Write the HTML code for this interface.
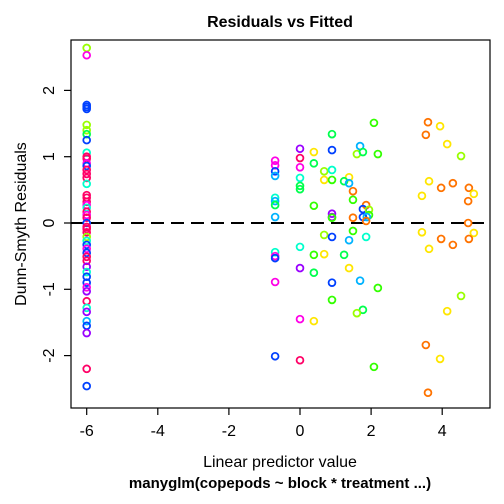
<!DOCTYPE html>
<html><head><meta charset="utf-8"><style>
body{margin:0;background:#fff}
svg{display:block;font-family:"Liberation Sans",sans-serif}
</style></head><body>
<svg id="chart" width="504" height="504" viewBox="0 0 504 504">
<text x="280" y="27" text-anchor="middle" font-size="16" font-weight="bold">Residuals vs Fitted</text>
<rect x="71" y="40" width="419" height="368" fill="none" stroke="#000" stroke-width="1.2"/>
<g id="xaxis"></g>
<g id="yaxis"></g>
<line x1="71" x2="490" y1="223" y2="223" stroke="#000" stroke-width="2" stroke-dasharray="13,7"/>
<g id="points"></g>
<text x="280" y="467" text-anchor="middle" font-size="16">Linear predictor value</text>
<text x="280" y="488" text-anchor="middle" font-size="15" font-weight="bold">manyglm(copepods ~ block * treatment ...)</text>
<text transform="translate(26,224) rotate(-90)" text-anchor="middle" font-size="16">Dunn-Smyth Residuals</text>
</svg>
<script>
const xTicks=[-6,-4,-2,0,2,4];
const yTicks=[-2,-1,0,1,2];
const pointX=[-6,-6,-6,-6,-6,-6,-6,-6,-6,-6,-6,-6,-6,-6,-6,-6,-6,-6,-6,-6,-6,-6,-6,-6,-6,-6,-6,-6,-6,-6,-6,-6,-6,-6,-6,-6,-6,-6,-6,-6,-6,-6,-6,-6,-6,-6,-6,-6,-6,-6,-6,
2.08,0.90,0.90,0,0.39,1.69,1.60,1.77,2.19,-0.70,-0.70,0,0,-0.70,-0.70,0.39,0.68,0.90,1.38,0.68,0.90,1.24,1.38,0,0,0,1.49,-0.70,-0.70,-0.70,1.49,0.39,1.86,1.77,1.94,1.94,0.90,0.90,0.90,1.49,1.77,1.88,-0.70,1.86,
1.49,0.68,0.90,1.86,1.38,0,-0.70,-0.70,-0.70,0.39,0.68,1.24,0,0.39,1.38,-0.70,0.90,1.69,2.19,0.90,1.77,1.60,0,0.39,-0.70,0,2.08,
3.60,3.94,3.54,4.14,4.53,3.63,3.97,4.30,4.75,4.89,3.43,4.73,4.73,3.43,4.89,3.97,4.30,4.75,3.63,4.53,4.14,3.54,3.94,3.60];
const pointY=[2.64,2.53,1.78,1.75,1.72,1.48,1.40,1.34,1.25,1.06,1.00,0.97,0.90,0.86,0.80,0.74,0.68,0.59,0.42,0.38,0.32,0.27,0.23,0.17,0.12,0.08,0,-0.06,-0.09,-0.14,-0.21,-0.27,-0.33,-0.39,-0.45,-0.51,-0.57,-0.66,-0.74,-0.81,-0.90,-0.97,-1.03,-1.18,-1.28,-1.34,-1.48,-1.55,-1.66,-2.20,-2.46,
1.51,1.34,1.10,1.12,1.07,1.16,1.04,1.07,1.04,0.94,0.87,0.98,0.84,0.78,0.71,0.90,0.78,0.80,0.69,0.65,0.65,0.63,0.60,0.68,0.56,0.51,0.48,0.38,0.33,0.27,0.35,0.26,0.27,0.21,0.20,0.12,0.14,0.09,0.08,0.08,0.09,0.09,0.09,0.03,
-0.12,-0.18,-0.21,-0.21,-0.26,-0.36,-0.44,-0.50,-0.53,-0.48,-0.47,-0.48,-0.68,-0.75,-0.68,-0.89,-0.90,-0.87,-0.98,-1.16,-1.31,-1.36,-1.45,-1.48,-2.01,-2.07,-2.17,
1.52,1.46,1.33,1.19,1.01,0.63,0.53,0.60,0.53,0.44,0.41,0.33,0,-0.14,-0.15,-0.24,-0.33,-0.24,-0.39,-1.10,-1.33,-1.84,-2.05,-2.56];
const pointGroup=["L","M","B","B","B","L","L","G","B","A","R","R","M","B","R","R","R","A","R","R","R","M","A","R","M","R","B","R","R","R","L","A","B","M","B","R","R","P","A","B","B","M","P","R","A","P","Z","B","P","R","B",
"W","G","B","P","Y","Z","L","G","W","M","M","R","M","B","Z","G","L","A","Y","Y","W","G","Z","A","G","G","O","A","Z","G","W","W","O","B","L","W","P","P","W","O","B","Z","Z","O",
"W","L","B","A","Z","A","A","M","B","W","Y","G","P","G","Y","M","B","Z","W","W","G","L","M","Y","B","R","W",
"O","Y","O","Y","L","Y","O","O","O","Y","Y","O","O","Y","Y","O","O","O","Y","L","Y","O","Y","O"];
const palette={L:"#99FF00",M:"#FF00E6",B:"#0040FF",G:"#00FF4D",A:"#00FFCC",R:"#FF0066",P:"#9900FF",Z:"#00B3FF",O:"#FF7300",Y:"#FFE600",W:"#33FF00"};
const NS="http://www.w3.org/2000/svg";
const xs=v=>300+v*35.55, ys=v=>223-v*66.3;
const xa=document.getElementById('xaxis'), ya=document.getElementById('yaxis'), pg=document.getElementById('points');
function mk(t,a){const e=document.createElementNS(NS,t);for(const k in a)e.setAttribute(k,a[k]);return e;}
xTicks.forEach(t=>{
 const l=mk('line',{x1:xs(t),x2:xs(t),y1:408,y2:415,stroke:'#000','stroke-width':1.2});
 
 
 xa.appendChild(l);
 const tx=mk('text',{x:xs(t),y:436,'text-anchor':'middle','font-size':16});
 
 
 tx.textContent=t<0?'-'+Math.abs(t):String(t);xa.appendChild(tx);
});
yTicks.forEach(t=>{
 const l=mk('line',{x1:64,x2:71,y1:ys(t),y2:ys(t),stroke:'#000','stroke-width':1.2});
 
 
 ya.appendChild(l);
 const tx=mk('text',{transform:`translate(54,${ys(t)}) rotate(-90)`,'text-anchor':'middle','font-size':16});
 
 
 tx.textContent=t<0?'-'+Math.abs(t):String(t);ya.appendChild(tx);
});
pointX.forEach((x,i)=>{
 const c=mk('circle',{cx:xs(x),cy:ys(pointY[i]),r:3.4,fill:'none',stroke:palette[pointGroup[i]],'stroke-width':1.8});
 
 
 pg.appendChild(c);
});
</script>
</body></html>
